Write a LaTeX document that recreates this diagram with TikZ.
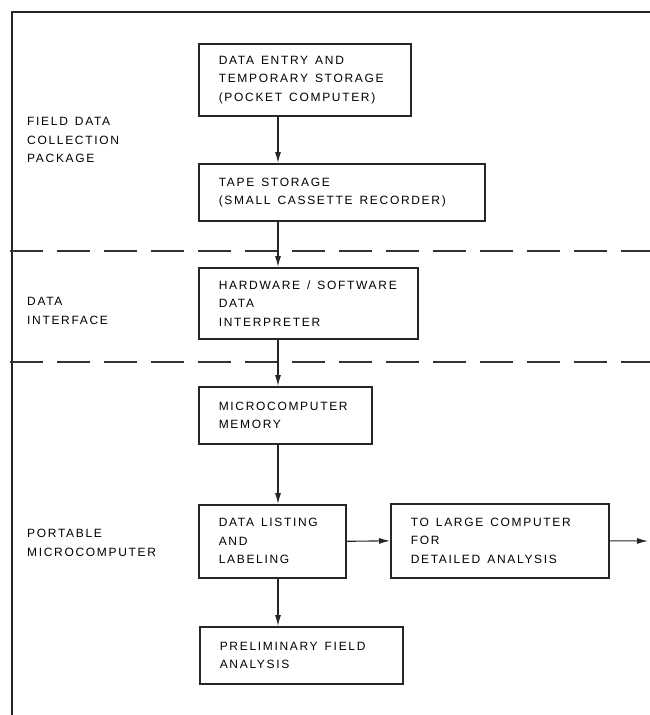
\documentclass[tikz,border=0pt]{standalone}
\usepackage{fontspec}
\setmainfont{Liberation Sans}[LetterSpace=14]
\usetikzlibrary{arrows.meta}
\begin{document}
\begin{tikzpicture}[x=1pt,y=-1pt,
  txt/.style={font=\fontsize{12}{18.5}\selectfont, text=black, execute at begin node={\spaceskip=7pt\relax}},
  box/.style={txt, draw=black!85, line width=1.6pt, align=left, inner xsep=20pt, inner ysep=0pt, anchor=north west},
  lab/.style={txt, align=left, anchor=west, inner sep=0pt},
  arr/.style={-{Latex[length=11pt,width=6pt]}, line width=1.1pt, draw=black!85},
  sep/.style={line width=1.6pt, draw=black!80, dash pattern=on 33pt off 14pt}]
\useasboundingbox (0,0) rectangle (650,715);
\draw[line width=1.8pt, black!85] (12,715) -- (12,12) -- (650,12);
% separators
\coordinate (s1a) at (10,251); \coordinate (s1b) at (650,251);
\coordinate (s2a) at (10,362); \coordinate (s2b) at (650,362);
\draw[sep] (s1a) -- (s1b);
\draw[sep] (s2a) -- (s2b);
% labels
\node[lab] (l1) at (27,140) {FIELD DATA\\COLLECTION\\PACKAGE};
\node[lab] (l2) at (27,311) {DATA\\INTERFACE};
\node[lab] (l3) at (27,543) {PORTABLE\\MICROCOMPUTER};
% boxes
\node[box, text width=172pt, minimum height=72pt] (b1) at (198,43) {DATA ENTRY AND\\TEMPORARY STORAGE\\(POCKET COMPUTER)};
\node[box, text width=246pt, minimum height=57pt] (b2) at (198,163) {TAPE STORAGE\\(SMALL CASSETTE RECORDER)};
\node[box, text width=179pt, minimum height=71pt] (b3) at (198,267) {HARDWARE / SOFTWARE\\DATA\\INTERPRETER};
\node[box, text width=133pt, minimum height=57pt] (b4) at (198,386) {MICROCOMPUTER\\MEMORY};
\node[box, text width=107pt, minimum height=73pt] (b5) at (198,504) {DATA LISTING\\AND\\LABELING};
\node[box, text width=178pt, minimum height=74pt] (b6) at (390,503) {TO LARGE COMPUTER\\FOR\\DETAILED ANALYSIS};
\node[box, text width=163pt, minimum height=57pt] (b7) at (199,626) {PRELIMINARY FIELD\\ANALYSIS};
% connectors
\coordinate (ax) at (278,0);
\coordinate (out) at (648,541);
\draw[arr] (b1.south -| ax) -- (b2.north -| ax);
\draw[arr] (b2.south -| ax) -- (b3.north -| ax);
\draw[arr] (b3.south -| ax) -- (b4.north -| ax);
\draw[arr] (b4.south -| ax) -- (b5.north -| ax);
\draw[arr] (b5.south -| ax) -- (b7.north -| ax);
\draw[arr] (b5.east) -- (b6.west);
\draw[arr] (b6.east) -- (out);
\end{tikzpicture}
\end{document}
